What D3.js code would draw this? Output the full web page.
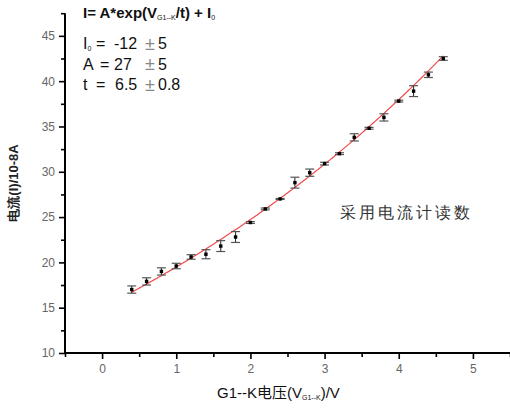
<!DOCTYPE html>
<html>
<head>
<meta charset="utf-8">
<script src="https://cdn.jsdelivr.net/npm/d3@7"></script>
<style>
  html, body { margin: 0; padding: 0; background: #fff; }
  svg { display: block; }
  text { font-family: "Liberation Sans", Arial, sans-serif; white-space: pre; }
</style>
</head>
<body>
<svg id="chart" width="510" height="410"></svg>
<script>
// Measured anode current against G1-K voltage
const voltage = [0.4, 0.6, 0.8, 1.0, 1.2, 1.4, 1.6, 1.8, 2.0, 2.2, 2.4,
                 2.6, 2.8, 3.0, 3.2, 3.4, 3.6, 3.8, 4.0, 4.2, 4.4, 4.6];
const current = [17.0, 17.9, 19.0, 19.6, 20.6, 20.9, 21.8, 22.8, 24.4, 25.9, 27.0,
                 28.8, 29.9, 30.9, 32.0, 33.8, 34.8, 36.0, 37.8, 38.9, 40.7, 42.5];
const errorBar = [0.4, 0.4, 0.4, 0.3, 0.25, 0.5, 0.6, 0.6, 0.1, 0.1, 0.05,
                  0.6, 0.4, 0.15, 0.1, 0.4, 0.1, 0.4, 0.1, 0.6, 0.3, 0.2];

// Exponential fit parameters: I = A*exp(V/t) + I0, with their uncertainties
const fitI0 = -12, fitI0Err = 5;
const fitA = 27, fitAErr = 5;
const fitT = 6.5, fitTErr = 0.8;

const xTicks = [0, 1, 2, 3, 4, 5];
const yTicks = [10, 15, 20, 25, 30, 35, 40, 45];

const svg = d3.select("#chart");

const x = d3.scaleLinear().domain([-0.5, 5.5]).range([65, 510]);
const y = d3.scaleLinear().domain([10, 47.5]).range([353, 13.2]);

// Axes
const xAxis = d3.axisBottom(x).tickValues(xTicks).tickSize(6).tickPadding(5)
  .tickFormat(d3.format("d"));
const xMinor = d3.axisBottom(x).tickValues(d3.range(-0.5, 5.51, 0.5).filter(v => Math.abs(v - Math.round(v)) > 0.01))
  .tickSize(4).tickFormat("");
const yAxis = d3.axisLeft(y).tickValues(yTicks).tickSize(6).tickPadding(4)
  .tickFormat(d3.format("d"));
const yMinor = d3.axisLeft(y).tickValues(d3.range(12.5, 47.6, 5)).tickSize(4).tickFormat("");

function styleAxis(g) {
  g.select(".domain").attr("stroke", "#000").attr("stroke-width", 2);
  g.selectAll(".tick line").attr("stroke", "#000").attr("stroke-width", 1.6);
  g.selectAll(".tick text").attr("fill", "#666").attr("font-size", 12)
    .attr("font-family", "Liberation Sans, Arial, sans-serif");
}

svg.append("g").attr("transform", "translate(0,353)").call(xMinor).call(g => { styleAxis(g); g.select(".domain").remove(); });
svg.append("g").attr("transform", "translate(0,353)").call(xAxis).call(styleAxis)
  .call(g => g.select(".domain").attr("d", `M${x(-0.5)},0H${x(5.5)}`));
svg.append("g").attr("transform", "translate(65,0)").call(yMinor).call(g => { styleAxis(g); g.select(".domain").remove(); });
svg.append("g").attr("transform", "translate(65,0)").call(yAxis).call(styleAxis)
  .call(g => g.select(".domain").attr("d", `M0,${y(10)}V${y(47.5)}`));

// Fit curve
const fitXs = d3.range(voltage[0], voltage[voltage.length - 1] + 1e-9, 0.02);
const line = d3.line().x(d => x(d)).y(d => y(fitA * Math.exp(d / fitT) + fitI0));
svg.append("path").datum(fitXs).attr("d", line)
  .attr("fill", "none").attr("stroke", "#f24848").attr("stroke-width", 1.2);

// Error bars and markers
const pts = svg.append("g").selectAll("g").data(voltage.map((v, i) => ({ v, c: current[i], e: errorBar[i] })))
  .join("g");
pts.append("line")
  .attr("x1", d => x(d.v)).attr("x2", d => x(d.v))
  .attr("y1", d => y(d.c - d.e)).attr("y2", d => y(d.c + d.e))
  .attr("stroke", "#222").attr("stroke-width", 1);
pts.each(function (d) {
  const g = d3.select(this);
  [d.c - d.e, d.c + d.e].forEach(val => {
    g.append("line")
      .attr("x1", x(d.v) - 4.5).attr("x2", x(d.v) + 4.5)
      .attr("y1", y(val)).attr("y2", y(val))
      .attr("stroke", "#555").attr("stroke-width", 1.2);
  });
});
pts.append("rect")
  .attr("x", d => x(d.v) - 1.7).attr("y", d => y(d.c) - 1.7)
  .attr("width", 3.4).attr("height", 3.4).attr("fill", "#000");

// Fit equation
const eq = svg.append("text").attr("x", 83).attr("y", 18).attr("font-size", 15)
  .attr("font-weight", "bold").attr("fill", "#111");
eq.append("tspan").text("I= A*exp(V");
eq.append("tspan").attr("font-size", 7).attr("font-weight", "normal").attr("dy", 2).text("G1--K");
eq.append("tspan").attr("dy", -2).text("/t) + I");
eq.append("tspan").attr("font-size", 7).attr("font-weight", "normal").attr("dy", 2).text("0");

// Fit parameters, laid out in columns
const params = [
  { name: "I", sub: "0", value: fitI0, err: fitI0Err },
  { name: "A", sub: "", value: fitA, err: fitAErr },
  { name: "t", sub: "", value: fitT, err: fitTErr }
];
params.forEach((p, i) => {
  const by = 49 + i * 20.5;
  const g = svg.append("g").attr("font-size", 16).attr("fill", "#111");
  const n = g.append("text").attr("x", 83).attr("y", by);
  n.append("tspan").text(p.name);
  if (p.sub) n.append("tspan").attr("font-size", 7).attr("dy", 2).text(p.sub);
  g.append("text").attr("x", p.name === "A" ? 100 : 96).attr("y", by).text("=");
  g.append("text").attr("x", p.name === "t" ? 115 : 114).attr("y", by).text(String(p.value));
  g.append("text").attr("x", 145).attr("y", by + 0.5).attr("font-size", 18).attr("fill", "#888").text("±");
  g.append("text").attr("x", 158).attr("y", by).text(String(p.err));
});

// Annotation
svg.append("text").attr("x", 340).attr("y", 218).attr("font-size", 16)
  .attr("letter-spacing", 3).attr("fill", "#333")
  .attr("font-family", "Noto Sans CJK SC, sans-serif")
  .text("采用电流计读数");

// Axis titles
const xt = svg.append("text").attr("x", 217).attr("y", 398).attr("font-size", 15).attr("fill", "#111");
xt.append("tspan").text("G1--K");
xt.append("tspan").attr("font-family", "Noto Sans CJK SC, sans-serif").text("电压");
xt.append("tspan").text("(V");
xt.append("tspan").attr("font-size", 7).attr("dy", 2).text("G1--K");
xt.append("tspan").attr("dy", -2).text(")/V");

svg.append("text")
  .attr("transform", "translate(18,183) rotate(-90)")
  .attr("text-anchor", "middle").attr("font-size", 13).attr("font-weight", "bold").attr("fill", "#222")
  .text("电流(I)/10-8A");
</script>
</body>
</html>
